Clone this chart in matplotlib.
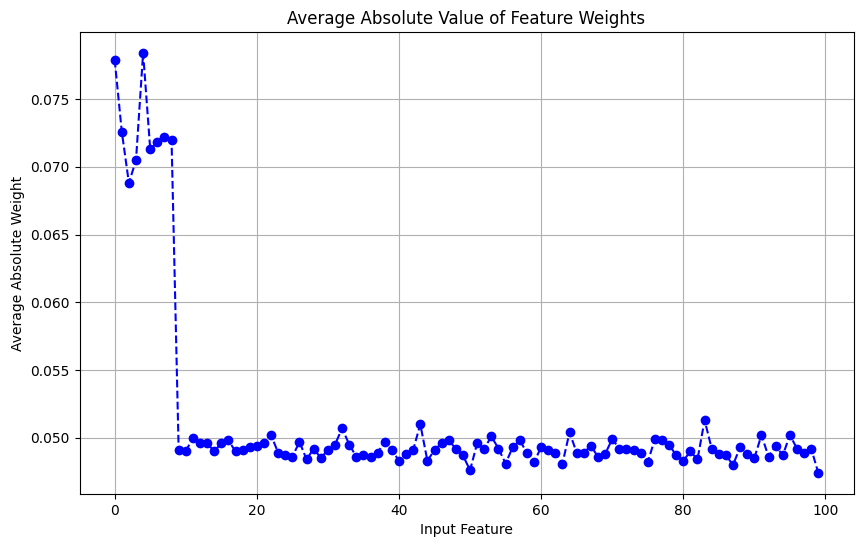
import matplotlib
matplotlib.use("Agg")
import matplotlib.pyplot as plt
import numpy as np

features = list(range(100))
weights = [
    0.0779, 0.0726, 0.0688, 0.0705, 0.0784, 0.0713, 0.0718, 0.0722, 0.0720, 0.0491,
    0.0490, 0.0500, 0.0496, 0.0496, 0.0490, 0.0496, 0.0498, 0.0490, 0.0491, 0.0493,
    0.0494, 0.0496, 0.0502, 0.0489, 0.0487, 0.0486, 0.0497, 0.0484, 0.0492, 0.0485,
    0.0491, 0.0495, 0.0507, 0.0495, 0.0486, 0.0487, 0.0486, 0.0489, 0.0497, 0.0491,
    0.0483, 0.0488, 0.0491, 0.0510, 0.0483, 0.0491, 0.0496, 0.0498, 0.0492, 0.0487,
    0.0476, 0.0496, 0.0492, 0.0501, 0.0492, 0.0481, 0.0493, 0.0498, 0.0489, 0.0482,
    0.0493, 0.0491, 0.0489, 0.0481, 0.0504, 0.0489, 0.0489, 0.0494, 0.0486, 0.0488,
    0.0499, 0.0492, 0.0492, 0.0491, 0.0489, 0.0482, 0.0499, 0.0498, 0.0495, 0.0487,
    0.0483, 0.0490, 0.0484, 0.0513, 0.0492, 0.0488, 0.0487, 0.0480, 0.0493, 0.0488,
    0.0485, 0.0502, 0.0486, 0.0494, 0.0487, 0.0502, 0.0492, 0.0489, 0.0492, 0.0474,
]

fig = plt.figure(figsize=(8.63, 5.47), dpi=100)
ax = fig.add_axes([79.5 / 863, 53 / 547, 774 / 863, 462 / 547])
ax.plot(features, weights, marker='o', linestyle='--', color='b')
ax.set_title('Average Absolute Value of Feature Weights')
ax.set_xlabel('Input Feature')
ax.set_ylabel('Average Absolute Weight')
ax.grid(True)
fig.savefig('out.png', dpi=100)
